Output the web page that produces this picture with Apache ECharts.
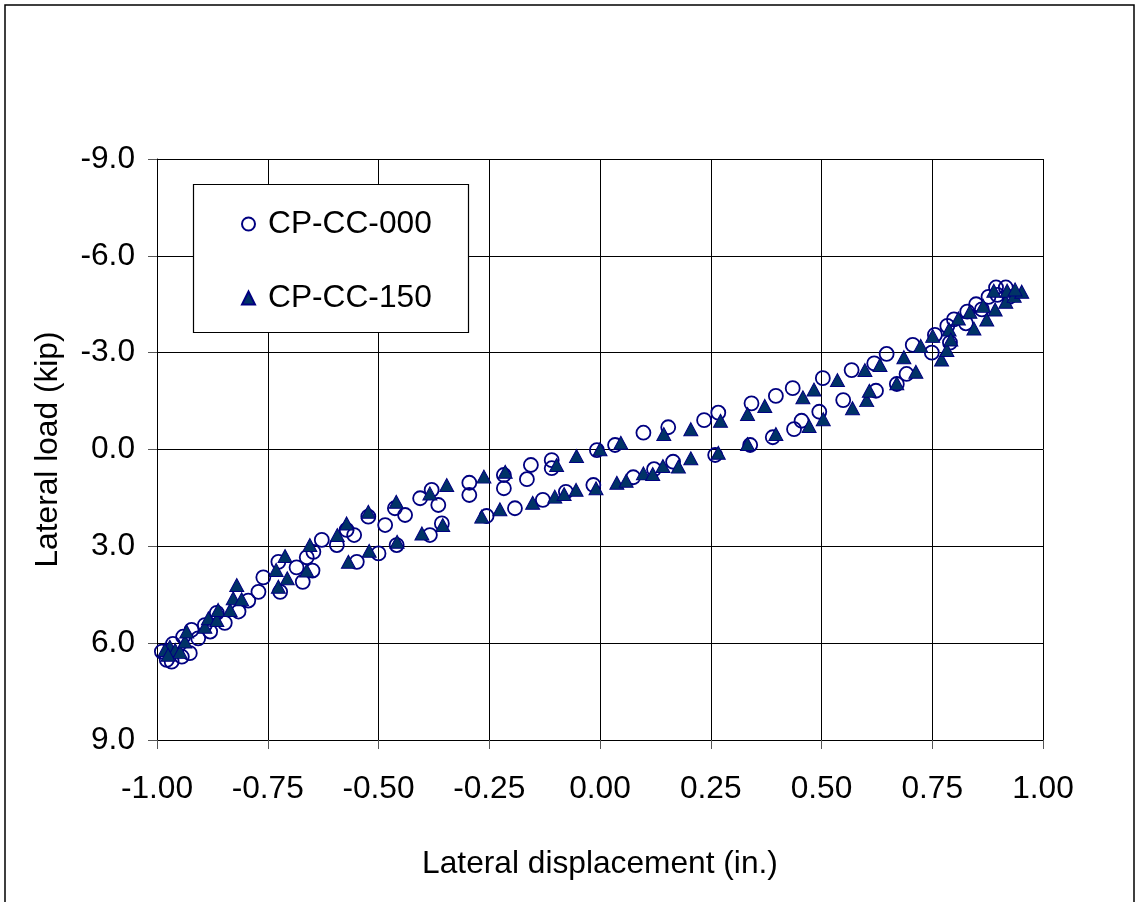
<!DOCTYPE html>
<html>
<head>
<meta charset="utf-8">
<script src="https://cdn.jsdelivr.net/npm/echarts@6/dist/echarts.min.js"></script>
<style>
  html, body { margin: 0; padding: 0; background: #fff; }
  #chart { width: 1136px; height: 902px; }
</style>
</head>
<body>
<div id="chart"></div>
<script>
// Load–displacement hysteresis points, [displacement (in.), load (kip)]
const seriesNames = ['CP-CC-000', 'CP-CC-150'];

const cc000 = [
  [-0.989, 6.26], [-0.978, 6.52], [-0.967, 6.57], [-0.944, 6.42], [-0.926, 6.31],
  [-0.964, 6.02], [-0.941, 5.80], [-0.922, 5.59], [-0.907, 5.85], [-0.892, 5.44],
  [-0.880, 5.64], [-0.865, 5.06], [-0.847, 5.37], [-0.816, 5.02], [-0.794, 4.68],
  [-0.771, 4.41], [-0.760, 3.96], [-0.726, 3.48], [-0.722, 4.41], [-0.685, 3.65],
  [-0.671, 4.10], [-0.662, 3.34], [-0.649, 3.75], [-0.647, 3.17], [-0.628, 2.80],
  [-0.594, 2.96], [-0.572, 2.49], [-0.555, 2.65], [-0.549, 3.48], [-0.523, 2.08],
  [-0.500, 3.22], [-0.485, 2.34], [-0.459, 2.96], [-0.463, 1.82], [-0.440, 2.03],
  [-0.406, 1.51], [-0.380, 1.25], [-0.365, 1.72], [-0.384, 2.65], [-0.357, 2.29],
  [-0.295, 1.03], [-0.295, 1.41], [-0.256, 2.06], [-0.217, 0.79], [-0.217, 1.20],
  [-0.192, 1.82], [-0.156, 0.48], [-0.165, 0.92], [-0.129, 1.56], [-0.109, 0.33],
  [-0.109, 0.58], [-0.077, 1.31], [-0.007, 0.02], [-0.015, 1.10], [0.034, -0.14],
  [0.075, 0.86], [0.098, -0.52], [0.122, 0.61], [0.154, -0.69], [0.165, 0.38],
  [0.235, -0.91], [0.260, 0.17], [0.267, -1.14], [0.339, -0.14], [0.342, -1.43],
  [0.390, -0.38], [0.397, -1.66], [0.435, -1.90], [0.438, -0.63], [0.455, -0.89],
  [0.495, -1.17], [0.503, -2.21], [0.549, -1.53], [0.568, -2.46], [0.619, -2.67],
  [0.623, -1.82], [0.647, -2.96], [0.670, -2.03], [0.692, -2.34], [0.706, -3.24],
  [0.749, -3.00], [0.756, -3.55], [0.790, -3.31], [0.784, -3.83], [0.799, -4.03],
  [0.826, -3.91], [0.829, -4.27], [0.849, -4.50], [0.862, -4.34], [0.877, -4.73],
  [0.894, -5.02], [0.916, -5.02], [0.924, -4.73], [0.897, -4.79]
];

const cc150 = [
  [-0.971, 6.11], [-0.982, 6.21], [-0.959, 6.21], [-0.948, 6.27], [-0.975, 6.36],
  [-0.937, 5.95], [-0.933, 5.64], [-0.892, 5.49], [-0.884, 5.23], [-0.865, 5.28],
  [-0.862, 4.97], [-0.835, 4.97], [-0.828, 4.61], [-0.809, 4.64], [-0.820, 4.20],
  [-0.731, 3.73], [-0.726, 4.25], [-0.711, 3.30], [-0.706, 3.99], [-0.662, 3.75],
  [-0.655, 2.96], [-0.593, 2.65], [-0.572, 2.29], [-0.568, 3.48], [-0.523, 1.93],
  [-0.521, 3.14], [-0.460, 1.62], [-0.458, 2.86], [-0.402, 2.60], [-0.384, 1.36],
  [-0.355, 2.34], [-0.346, 1.10], [-0.267, 2.08], [-0.262, 0.84], [-0.226, 1.85],
  [-0.214, 0.69], [-0.152, 1.65], [-0.102, 1.46], [-0.098, 0.48], [-0.081, 1.38],
  [-0.054, 1.25], [-0.053, 0.20], [-0.009, 1.20], [0.000, -0.01], [0.038, 1.03],
  [0.047, -0.21], [0.059, 0.97], [0.098, 0.74], [0.119, 0.76], [0.142, 0.51],
  [0.144, -0.48], [0.177, 0.53], [0.205, -0.63], [0.205, 0.27], [0.267, 0.10],
  [0.272, -0.89], [0.333, -0.17], [0.333, -1.10], [0.372, -1.35], [0.397, -0.48],
  [0.458, -1.62], [0.472, -0.73], [0.483, -1.86], [0.504, -0.94], [0.536, -2.15],
  [0.570, -1.28], [0.598, -2.46], [0.602, -1.53], [0.608, -1.82], [0.632, -2.62],
  [0.670, -2.05], [0.686, -2.86], [0.713, -2.41], [0.724, -3.21], [0.751, -3.52],
  [0.771, -2.79], [0.783, -3.08], [0.788, -3.72], [0.792, -3.41], [0.809, -4.06],
  [0.835, -4.27], [0.844, -3.75], [0.865, -4.45], [0.873, -4.03], [0.892, -4.34],
  [0.889, -4.92], [0.916, -4.58], [0.919, -4.92], [0.935, -4.76], [0.952, -4.89],
  [0.937, -4.96]
];

const xRange = { min: -1.0, max: 1.0, step: 0.25 };
const yRange = { min: -9.0, max: 9.0, step: 3.0 };

const FONT = 'Liberation Sans, Arial, sans-serif';
const FS = 31.7;
const NAVY = '#000080';
const DARK = '#003366';

const chart = echarts.init(document.getElementById('chart'), null, { renderer: 'canvas' });

chart.setOption({
  backgroundColor: '#ffffff',
  animation: false,
  textStyle: { fontFamily: FONT },
  grid: { left: 157, top: 159, right: 93, bottom: 162, containLabel: false },
  graphic: [
    // outer frame around the figure
    { type: 'rect', z: -10, silent: true,
      shape: { x: 5, y: 5, width: 1129, height: 1000 },
      style: { fill: '#fff', stroke: '#000', lineWidth: 1.5 } },
    // legend frame
    { type: 'rect', z: 90, silent: true,
      shape: { x: 193.5, y: 184.5, width: 275, height: 148 },
      style: { fill: '#fff', stroke: '#000', lineWidth: 1.2 } }
  ],
  legend: {
    z: 100,
    orient: 'vertical',
    left: 236, top: 203,
    itemWidth: 13, itemHeight: 13,
    itemGap: 42,
    selectedMode: false,
    textStyle: { fontFamily: FONT, fontSize: FS, color: '#000', lineHeight: 30,
      padding: [0, 0, 0, 8] },
    data: seriesNames
  },
  xAxis: {
    type: 'value',
    min: xRange.min, max: xRange.max, interval: xRange.step,
    name: 'Lateral displacement (in.)',
    nameLocation: 'middle', nameGap: 108,
    nameTextStyle: { fontFamily: FONT, fontSize: FS, color: '#000' },
    axisLine: { onZero: false, lineStyle: { color: '#000', width: 1 } },
    axisTick: { show: true, inside: false, length: 9, lineStyle: { color: '#555', width: 1 } },
    axisLabel: { fontFamily: FONT, fontSize: FS, color: '#000', margin: 33,
      formatter: v => v.toFixed(2) },
    splitLine: { show: true, lineStyle: { color: '#000', width: 1 } }
  },
  yAxis: {
    type: 'value',
    inverse: true,
    min: yRange.min, max: yRange.max, interval: yRange.step,
    name: 'Lateral load (kip)',
    nameLocation: 'middle', nameGap: 93,
    nameTextStyle: { fontFamily: FONT, fontSize: FS, color: '#000' },
    axisLine: { onZero: false, lineStyle: { color: '#000', width: 1 } },
    axisTick: { show: true, inside: false, length: 9, lineStyle: { color: '#555', width: 1 } },
    axisLabel: { fontFamily: FONT, fontSize: FS, color: '#000', margin: 22,
      formatter: v => v.toFixed(1) },
    splitLine: { show: true, lineStyle: { color: '#000', width: 1 } }
  },
  series: [
    {
      name: seriesNames[0],
      type: 'scatter',
      symbol: 'circle',
      symbolSize: 14,
      data: cc000,
      itemStyle: { color: 'rgba(255,255,255,0)', borderColor: NAVY, borderWidth: 1.8, opacity: 1 },
      z: 3
    },
    {
      name: seriesNames[1],
      type: 'scatter',
      symbol: 'triangle',
      symbolSize: [14, 13],
      data: cc150,
      itemStyle: { color: DARK, borderColor: NAVY, borderWidth: 1, opacity: 1 },
      z: 4
    }
  ]
});
</script>
</body>
</html>
